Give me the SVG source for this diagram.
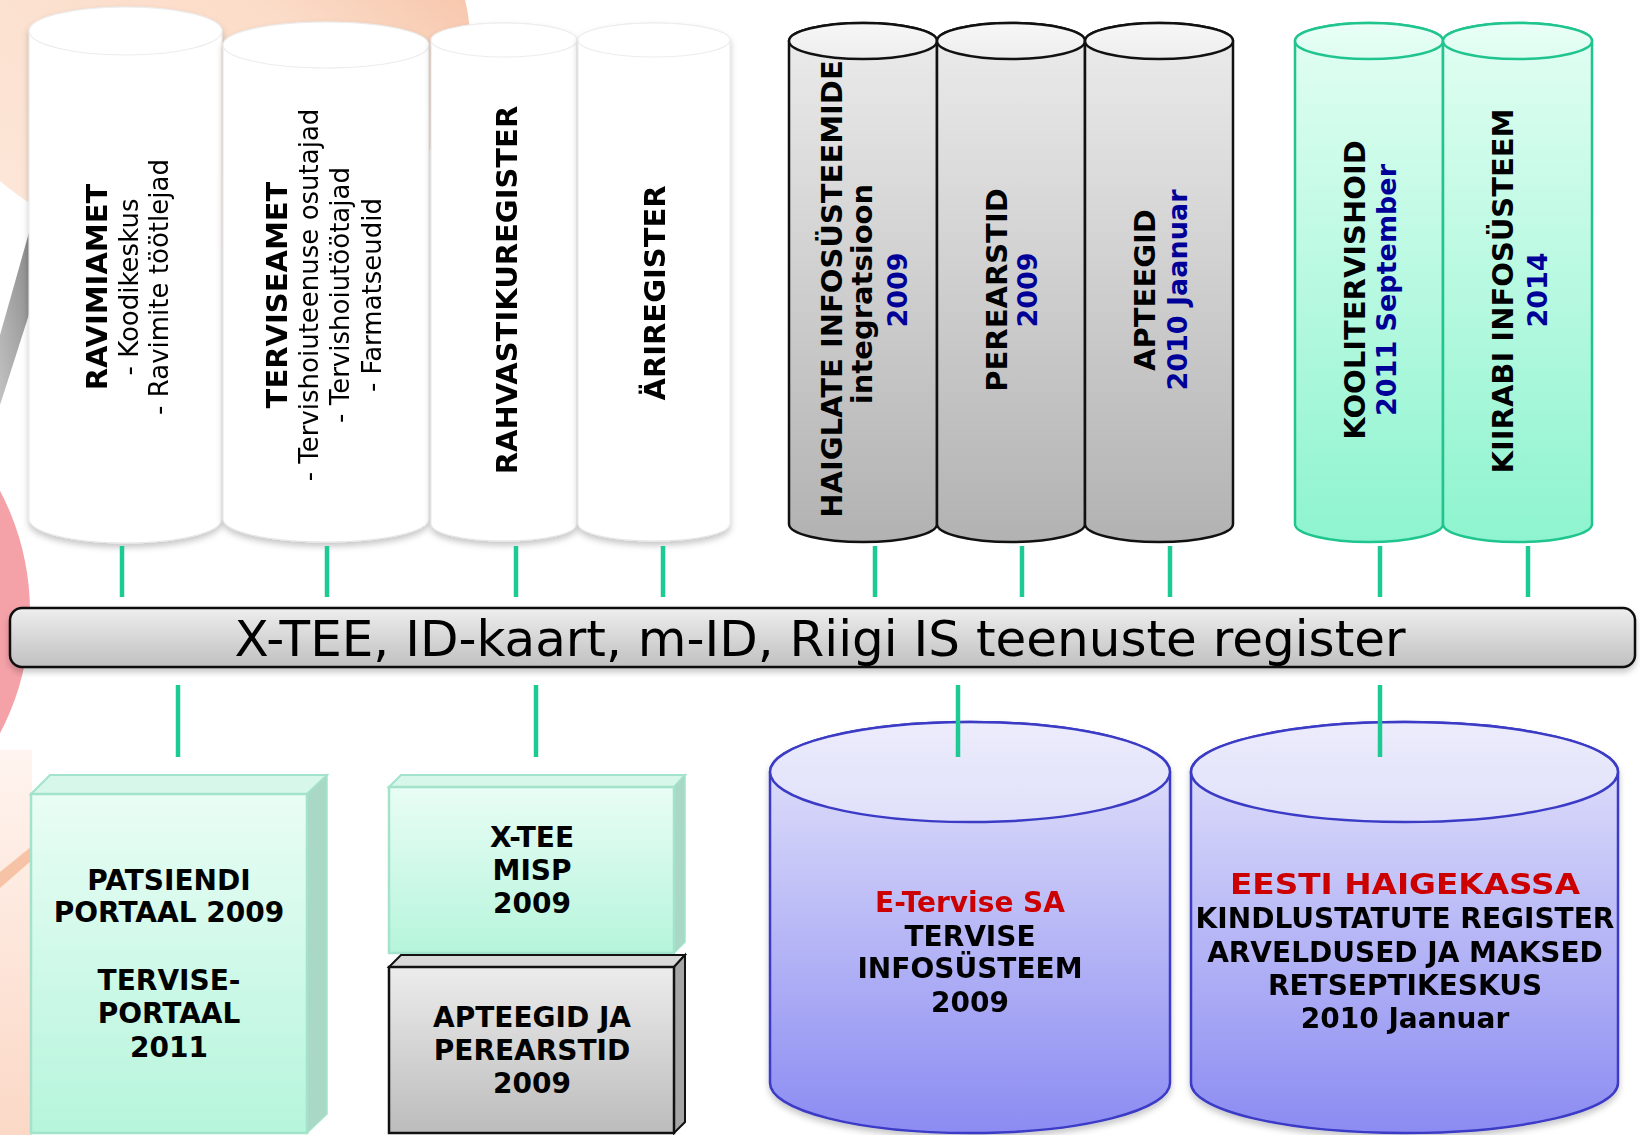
<svg xmlns="http://www.w3.org/2000/svg" width="1640" height="1135" viewBox="0 0 1640 1135">
<defs>
<style>
.b{font-family:"DejaVu Sans",Verdana,sans-serif;font-weight:bold;font-size:29px;fill:#000;text-anchor:middle}
.r{font-family:"DejaVu Sans",Verdana,sans-serif;font-size:26px;fill:#000;text-anchor:middle}
.y{font-family:"DejaVu Sans",Verdana,sans-serif;font-weight:bold;font-size:27px;fill:#000099;text-anchor:middle}
.bt{font-family:"DejaVu Sans",Verdana,sans-serif;font-weight:bold;font-size:28px;fill:#000;text-anchor:middle}
.red{fill:#cc0000}
.wcyl{fill:#ffffff;stroke:#e6e6e6;stroke-width:1}
.wtop{fill:#ffffff;stroke:#ececec;stroke-width:1.2}
.gcyl{fill:url(#gBody);stroke:#111;stroke-width:2.5}
.gtop{fill:url(#gTop);stroke:#111;stroke-width:2.5}
.mcyl{fill:url(#mBody);stroke:#1fc48e;stroke-width:2.5}
.mtop{fill:url(#mTop);stroke:#1fc48e;stroke-width:2.5}
.bcyl{fill:url(#bBody);stroke:#3a3ac6;stroke-width:2.5}
.btop{fill:url(#bTop);stroke:#3a3ac6;stroke-width:2.5}
.conn{stroke:#1dca93;stroke-width:4.5;fill:none}
</style>
<linearGradient id="gBody" x1="0" y1="0" x2="0" y2="1"><stop offset="0" stop-color="#ececec"/><stop offset="1" stop-color="#b2b2b2"/></linearGradient>
<linearGradient id="gTop" x1="0" y1="0" x2="0" y2="1"><stop offset="0" stop-color="#f7f7f7"/><stop offset="1" stop-color="#ededed"/></linearGradient>
<linearGradient id="mBody" x1="0" y1="0" x2="0" y2="1"><stop offset="0" stop-color="#e2fef3"/><stop offset="1" stop-color="#8ef4cf"/></linearGradient>
<linearGradient id="mTop" x1="0" y1="0" x2="0" y2="1"><stop offset="0" stop-color="#eafff7"/><stop offset="1" stop-color="#ddfdf1"/></linearGradient>
<linearGradient id="bBody" x1="0" y1="0" x2="0" y2="1"><stop offset="0" stop-color="#e6e6fb"/><stop offset="1" stop-color="#8b8bf2"/></linearGradient>
<linearGradient id="bTop" x1="0" y1="0" x2="0" y2="1"><stop offset="0" stop-color="#ececfc"/><stop offset="1" stop-color="#e0e0fa"/></linearGradient>
<linearGradient id="barG" x1="0" y1="0" x2="0" y2="1"><stop offset="0" stop-color="#eeeeee"/><stop offset="1" stop-color="#c0c0c0"/></linearGradient>
<linearGradient id="mintFront" x1="0" y1="0" x2="0" y2="1"><stop offset="0" stop-color="#e9fdf5"/><stop offset="1" stop-color="#b6f5dc"/></linearGradient>
<linearGradient id="grayFront" x1="0" y1="0" x2="0" y2="1"><stop offset="0" stop-color="#ececec"/><stop offset="1" stop-color="#bcbcbc"/></linearGradient>
<linearGradient id="peach" x1="0" y1="1" x2="1" y2="0"><stop offset="0" stop-color="#fde9dc"/><stop offset="0.6" stop-color="#fbdcc8"/><stop offset="0.85" stop-color="#f6c2a6"/><stop offset="1" stop-color="#f3b596"/></linearGradient>
<linearGradient id="grayBand" x1="1" y1="0" x2="0" y2="1"><stop offset="0" stop-color="#858585"/><stop offset="1" stop-color="#c2c2c2"/></linearGradient>
<linearGradient id="peachBot" x1="0" y1="0" x2="0" y2="1"><stop offset="0" stop-color="#fff4ef"/><stop offset="1" stop-color="#fbd8c6"/></linearGradient>
<filter id="sh" x="-10%" y="-10%" width="120%" height="125%"><feDropShadow dx="0" dy="4" stdDeviation="3" flood-color="#000" flood-opacity="0.22"/></filter>
</defs>

<rect width="1640" height="1135" fill="#ffffff"/>

<g id="background">
<ellipse cx="200" cy="40" rx="270" ry="210" fill="url(#peach)"/>
<polygon points="0,335 32,222 32,305 0,405" fill="url(#grayBand)"/>
<circle cx="-230" cy="612" r="260" fill="#f4a2a8"/>
<rect x="0" y="750" width="32" height="385" fill="url(#peachBot)"/>
<polygon points="0,872 32,846 32,860 0,888" fill="#f5b999" opacity="0.8"/>
</g>

<g id="node-ravimiamet" filter="url(#sh)">
<path class="wcyl" d="M29 31 V519 A96.5 24 0 0 0 222 519 V31 A96.5 24 0 0 0 29 31 Z"/>
<ellipse class="wtop" cx="125.5" cy="31" rx="96.5" ry="24"/>
<text class="b" font-size="30" transform="translate(107 287) rotate(-90)">RAVIMIAMET</text>
<text class="r" transform="translate(138 287) rotate(-90)">- Koodikeskus</text>
<text class="r" transform="translate(168 287) rotate(-90)">- Ravimite töötlejad</text>
</g>

<g id="node-terviseamet" filter="url(#sh)">
<path class="wcyl" d="M223 45 V519 A103 23 0 0 0 429 519 V45 A103 23 0 0 0 223 45 Z"/>
<ellipse class="wtop" cx="326" cy="45" rx="103" ry="23"/>
<text class="b" transform="translate(287 295) rotate(-90)">TERVISEAMET</text>
<text class="r" transform="translate(318 295) rotate(-90)">- Tervishoiuteenuse osutajad</text>
<text class="r" transform="translate(349 295) rotate(-90)">- Tervishoiutöötajad</text>
<text class="r" transform="translate(381 295) rotate(-90)">- Farmatseudid</text>
</g>

<g id="node-rahvastikuregister" filter="url(#sh)">
<path class="wcyl" d="M431 40 V524 A73 17 0 0 0 577 524 V40 A73 17 0 0 0 431 40 Z"/>
<ellipse class="wtop" cx="504" cy="40" rx="73" ry="17"/>
<text class="b" transform="translate(517 290) rotate(-90)">RAHVASTIKUREGISTER</text>
</g>

<g id="node-ariregister" filter="url(#sh)">
<path class="wcyl" d="M578 40 V524 A76 17 0 0 0 730 524 V40 A76 17 0 0 0 578 40 Z"/>
<ellipse class="wtop" cx="654" cy="40" rx="76" ry="17"/>
<text class="b" transform="translate(665 293) rotate(-90)">ÄRIREGISTER</text>
</g>

<g id="node-haiglate">
<path class="gcyl" d="M789 41 V524 A74 18 0 0 0 937 524 V41 A74 18 0 0 0 789 41 Z"/>
<ellipse class="gtop" cx="863" cy="41" rx="74" ry="18"/>
<text class="b" transform="translate(842 289) rotate(-90)">HAIGLATE INFOSÜSTEEMIDE</text>
<text class="b" font-size="28" transform="translate(872 294) rotate(-90)">integratsioon</text>
<text class="y" transform="translate(907 290) rotate(-90)">2009</text>
</g>

<g id="node-perearstid">
<path class="gcyl" d="M937 41 V524 A74 18 0 0 0 1085 524 V41 A74 18 0 0 0 937 41 Z"/>
<ellipse class="gtop" cx="1011" cy="41" rx="74" ry="18"/>
<text class="b" transform="translate(1007 290) rotate(-90)">PEREARSTID</text>
<text class="y" transform="translate(1037 290) rotate(-90)">2009</text>
</g>

<g id="node-apteegid">
<path class="gcyl" d="M1085 41 V524 A74 18 0 0 0 1233 524 V41 A74 18 0 0 0 1085 41 Z"/>
<ellipse class="gtop" cx="1159" cy="41" rx="74" ry="18"/>
<text class="b" transform="translate(1155 290) rotate(-90)">APTEEGID</text>
<text class="y" transform="translate(1187 290) rotate(-90)">2010 Jaanuar</text>
</g>

<g id="node-koolitervishoid">
<path class="mcyl" d="M1295 41 V524 A74 18 0 0 0 1443 524 V41 A74 18 0 0 0 1295 41 Z"/>
<ellipse class="mtop" cx="1369" cy="41" rx="74" ry="18"/>
<text class="b" transform="translate(1365 290) rotate(-90)">KOOLITERVISHOID</text>
<text class="y" transform="translate(1396 290) rotate(-90)">2011 September</text>
</g>

<g id="node-kiirabi">
<path class="mcyl" d="M1443 41 V524 A74.5 18 0 0 0 1592 524 V41 A74.5 18 0 0 0 1443 41 Z"/>
<ellipse class="mtop" cx="1517.5" cy="41" rx="74.5" ry="18"/>
<text class="b" transform="translate(1513 291) rotate(-90)">KIIRABI INFOSÜSTEEM</text>
<text class="y" transform="translate(1547 290) rotate(-90)">2014</text>
</g>

<g id="node-xtee-bar" filter="url(#sh)">
<rect x="10" y="608" width="1625" height="59" rx="12" fill="url(#barG)" stroke="#111" stroke-width="2.5"/>
<text x="820" y="656" font-family="'DejaVu Sans',Tahoma,sans-serif" font-size="50" text-anchor="middle" fill="#000">X-TEE, ID-kaart, m-ID, Riigi IS teenuste register</text>
</g>

<g id="node-patsiendi">
<polygon points="31,794 50,775 327,775 307,794" fill="#d6f7e9" stroke="#a3e3cb" stroke-width="2"/>
<polygon points="307,794 327,775 327,1114 307,1133" fill="#a9d8c6" stroke="#a3e3cb" stroke-width="1.5"/>
<rect x="31" y="794" width="276" height="339" fill="url(#mintFront)" stroke="#a3e3cb" stroke-width="2.5"/>
<text class="bt" x="169" y="890">PATSIENDI</text>
<text class="bt" x="169" y="922">PORTAAL 2009</text>
<text class="bt" x="169" y="990">TERVISE-</text>
<text class="bt" x="169" y="1023">PORTAAL</text>
<text class="bt" x="169" y="1057">2011</text>
</g>

<g id="node-misp">
<polygon points="389,787 401,775 685,775 674,787" fill="#d6f7e9" stroke="#a3e3cb" stroke-width="2"/>
<polygon points="674,787 685,775 685,942 674,953" fill="#a9d8c6" stroke="#a3e3cb" stroke-width="1.5"/>
<rect x="389" y="787" width="285" height="166" fill="url(#mintFront)" stroke="#a3e3cb" stroke-width="2.5"/>
<text class="bt" x="532" y="847">X-TEE</text>
<text class="bt" x="532" y="880">MISP</text>
<text class="bt" x="532" y="913">2009</text>
</g>

<g id="node-apteegid-perearstid">
<polygon points="389,967 401,955 685,955 674,967" fill="#d9d9d9" stroke="#111" stroke-width="2"/>
<polygon points="674,967 685,955 685,1122 674,1133" fill="#a6a6a6" stroke="#111" stroke-width="2"/>
<rect x="389" y="967" width="285" height="166" fill="url(#grayFront)" stroke="#111" stroke-width="2.5"/>
<text class="bt" x="532" y="1027">APTEEGID JA</text>
<text class="bt" x="532" y="1060">PEREARSTID</text>
<text class="bt" x="532" y="1093">2009</text>
</g>

<g id="node-etervise" filter="url(#sh)">
<path class="bcyl" d="M770 772 V1083 A200 50 0 0 0 1170 1083 V772 A200 50 0 0 0 770 772 Z"/>
<ellipse class="btop" cx="970" cy="772" rx="200" ry="50"/>
<text class="bt red" x="970" y="912">E-Tervise SA</text>
<text class="bt" x="970" y="946">TERVISE</text>
<text class="bt" x="970" y="978">INFOSÜSTEEM</text>
<text class="bt" x="970" y="1012">2009</text>
</g>

<g id="node-haigekassa" filter="url(#sh)">
<path class="bcyl" d="M1191 772 V1083 A213.5 50 0 0 0 1618 1083 V772 A213.5 50 0 0 0 1191 772 Z"/>
<ellipse class="btop" cx="1404.5" cy="772" rx="213.5" ry="50"/>
<text class="bt red" font-size="34" x="1405" y="894" textLength="350" lengthAdjust="spacingAndGlyphs">EESTI HAIGEKASSA</text>
<text class="bt" x="1405" y="928">KINDLUSTATUTE REGISTER</text>
<text class="bt" x="1405" y="962">ARVELDUSED JA MAKSED</text>
<text class="bt" x="1405" y="995">RETSEPTIKESKUS</text>
<text class="bt" x="1405" y="1028">2010 Jaanuar</text>
</g>

<g id="connectors">
<line class="conn" x1="122" y1="546" x2="122" y2="597"/>
<line class="conn" x1="327" y1="546" x2="327" y2="597"/>
<line class="conn" x1="516" y1="546" x2="516" y2="597"/>
<line class="conn" x1="663" y1="546" x2="663" y2="597"/>
<line class="conn" x1="875" y1="546" x2="875" y2="597"/>
<line class="conn" x1="1022" y1="546" x2="1022" y2="597"/>
<line class="conn" x1="1170" y1="546" x2="1170" y2="597"/>
<line class="conn" x1="1380" y1="546" x2="1380" y2="597"/>
<line class="conn" x1="1528" y1="546" x2="1528" y2="597"/>
<line class="conn" x1="178" y1="685" x2="178" y2="757"/>
<line class="conn" x1="536" y1="685" x2="536" y2="757"/>
<line class="conn" x1="958" y1="685" x2="958" y2="757"/>
<line class="conn" x1="1380" y1="685" x2="1380" y2="757"/>
</g>
</svg>
